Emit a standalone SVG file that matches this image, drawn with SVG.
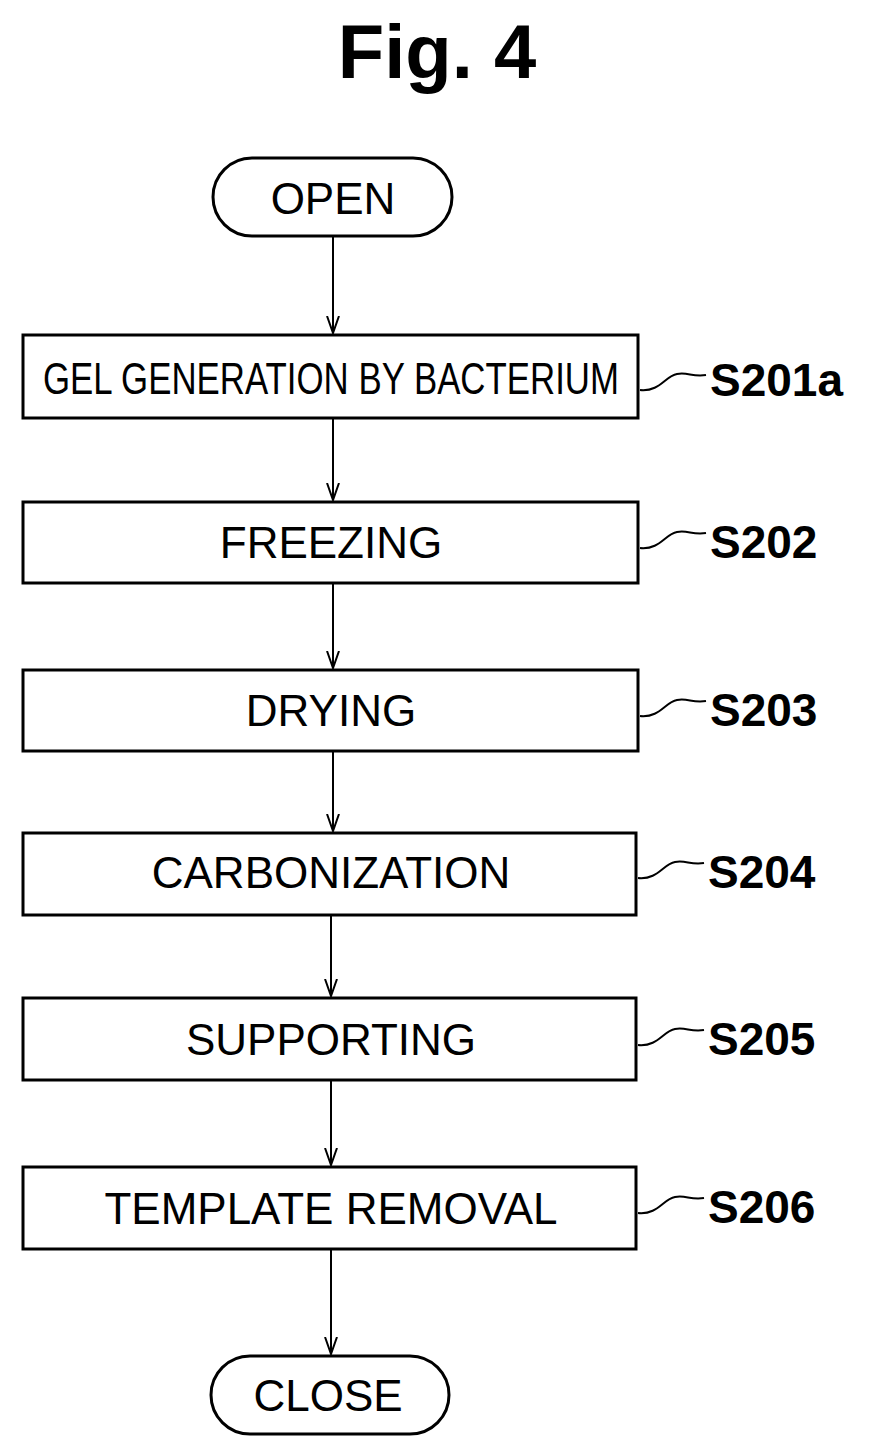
<svg xmlns="http://www.w3.org/2000/svg" width="872" height="1455" viewBox="0 0 872 1455">
<style>
.b{fill:#fff;stroke:#000;stroke-width:3}
.t{font-family:"Liberation Sans",Arial,sans-serif;font-size:44px;text-anchor:middle}
.l{font-family:"Liberation Sans",Arial,sans-serif;font-size:46px;font-weight:bold}
.c{fill:none;stroke:#000;stroke-width:2}
</style>
<defs><marker id="a" markerWidth="18" markerHeight="14" refX="17" refY="7" orient="auto" markerUnits="userSpaceOnUse"><path d="M0,1 L17,7 L0,13" fill="none" stroke="#000" stroke-width="2"/></marker></defs>
<rect width="872" height="1455" fill="#fff"/>
<text x="437" y="78" font-family="Liberation Sans,Arial,sans-serif" font-size="76" font-weight="bold" text-anchor="middle">Fig. 4</text>
<g id="connectors">
<line class="c" x1="333" y1="236" x2="333" y2="333" marker-end="url(#a)"/>
<line class="c" x1="333" y1="418" x2="333" y2="500" marker-end="url(#a)"/>
<line class="c" x1="333" y1="583" x2="333" y2="668" marker-end="url(#a)"/>
<line class="c" x1="333" y1="751" x2="333" y2="831" marker-end="url(#a)"/>
<line class="c" x1="331" y1="915" x2="331" y2="996" marker-end="url(#a)"/>
<line class="c" x1="331" y1="1080" x2="331" y2="1165" marker-end="url(#a)"/>
<line class="c" x1="331" y1="1249" x2="331" y2="1354" marker-end="url(#a)"/>
<path class="c" d="M640,390 C660,392 665,376 677,374 C688,372 692,377 706,375"/>
<path class="c" d="M640,548 C660,550 665,534 677,532 C688,530 692,535 706,533"/>
<path class="c" d="M640,716 C660,718 665,702 677,700 C688,698 692,703 706,701"/>
<path class="c" d="M638,878 C658,880 663,864 675,862 C686,860 690,865 704,863"/>
<path class="c" d="M638,1045 C658,1047 663,1031 675,1029 C686,1027 690,1032 704,1030"/>
<path class="c" d="M638,1213 C658,1215 663,1199 675,1197 C686,1195 690,1200 704,1198"/>
</g>
<g id="open"><rect class="b" x="213" y="158" width="239" height="78" rx="39"/><text class="t" x="333" y="214">OPEN</text></g>
<g id="s201a"><rect class="b" x="23" y="335" width="615" height="83"/><text class="t" x="331" y="394" textLength="576" lengthAdjust="spacingAndGlyphs">GEL GENERATION BY BACTERIUM</text><text class="l" x="710" y="396">S201a</text></g>
<g id="s202"><rect class="b" x="23" y="502" width="615" height="81"/><text class="t" x="331" y="558">FREEZING</text><text class="l" x="710" y="558">S202</text></g>
<g id="s203"><rect class="b" x="23" y="670" width="615" height="81"/><text class="t" x="331" y="726">DRYING</text><text class="l" x="710" y="726">S203</text></g>
<g id="s204"><rect class="b" x="23" y="833" width="613" height="82"/><text class="t" x="331" y="888">CARBONIZATION</text><text class="l" x="708" y="888">S204</text></g>
<g id="s205"><rect class="b" x="23" y="998" width="613" height="82"/><text class="t" x="331" y="1055">SUPPORTING</text><text class="l" x="708" y="1055">S205</text></g>
<g id="s206"><rect class="b" x="23" y="1167" width="613" height="82"/><text class="t" x="331" y="1224">TEMPLATE REMOVAL</text><text class="l" x="708" y="1223">S206</text></g>
<g id="close"><rect class="b" x="211" y="1356" width="238" height="78" rx="39"/><text class="t" x="328" y="1411">CLOSE</text></g>
</svg>
